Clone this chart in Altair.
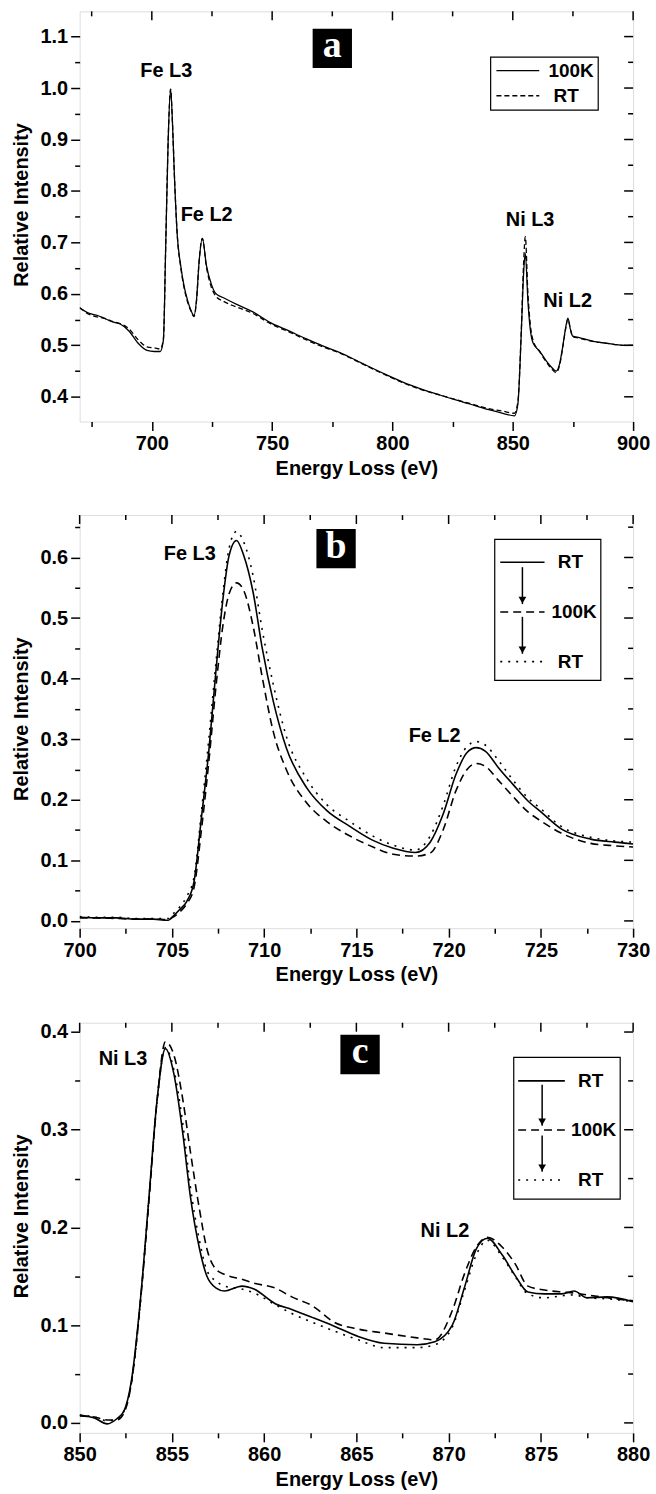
import altair as alt
import pandas as pd

FONT = "Liberation Sans"
SERIF = "Liberation Serif"
W = 556
HA, HB, HC = 412, 415, 412

# ---------------- panel a : Fe / Ni survey ----------------
a_energy = [670, 674, 677.5, 680, 684, 687, 690.5, 694.5, 698, 701, 703.5, 704.8, 705.8, 706.8,
            707.8, 708.6, 709.3, 710.6, 712, 713.4, 715, 716.1, 717.5, 718.6, 719.6, 721, 722.7,
            724.8, 726.5, 730, 735.5, 742, 749.3, 757, 764.5, 771, 778.2, 787, 796.9, 804.5, 812,
            820, 832.1, 840, 845.9, 850.7, 852.1, 853.5, 854.5, 855.2, 856.3, 857.3, 858.4, 861.1,
            863.9, 866, 868, 869.5, 870.8, 872, 872.9, 874, 874.9, 877.7, 880, 884, 887.3, 892,
            896, 900]
a_100K = [0.573, 0.562, 0.558, 0.553, 0.545, 0.541, 0.528, 0.503, 0.490, 0.488, 0.488, 0.510,
          0.700, 0.900, 0.998, 0.930, 0.840, 0.712, 0.655, 0.615, 0.585, 0.570, 0.558, 0.590,
          0.660, 0.708, 0.655, 0.618, 0.601, 0.592, 0.579, 0.565, 0.544, 0.528, 0.512, 0.499,
          0.486, 0.466, 0.444, 0.428, 0.415, 0.403, 0.386, 0.375, 0.368, 0.363, 0.385, 0.520,
          0.640, 0.679, 0.585, 0.530, 0.505, 0.489, 0.470, 0.458, 0.450, 0.465, 0.499, 0.535,
          0.553, 0.530, 0.518, 0.515, 0.512, 0.507, 0.505, 0.502, 0.500, 0.500]
a_RT = [0.573, 0.560, 0.555, 0.553, 0.546, 0.542, 0.532, 0.510, 0.497, 0.495, 0.493, 0.512,
        0.700, 0.900, 0.998, 0.930, 0.840, 0.712, 0.652, 0.612, 0.582, 0.568, 0.556, 0.588,
        0.660, 0.708, 0.652, 0.612, 0.596, 0.585, 0.574, 0.562, 0.542, 0.526, 0.510, 0.497,
        0.485, 0.465, 0.443, 0.427, 0.414, 0.403, 0.387, 0.377, 0.372, 0.368, 0.390, 0.525,
        0.660, 0.711, 0.600, 0.540, 0.510, 0.488, 0.468, 0.455, 0.447, 0.462, 0.497, 0.533,
        0.551, 0.530, 0.517, 0.514, 0.511, 0.507, 0.505, 0.502, 0.500, 0.500]

a_xticks = [675, 700, 725, 750, 775, 800, 825, 850, 875, 900]
a_xlabels = [700, 750, 800, 850, 900]
a_yticks = [0.4, 0.45, 0.5, 0.55, 0.6, 0.65, 0.7, 0.75, 0.8, 0.85, 0.9, 0.95, 1.0, 1.05, 1.1]
a_ylabels = [0.4, 0.5, 0.6, 0.7, 0.8, 0.9, 1.0, 1.1]

a_peak_text = ["Fe L3", "Fe L2", "Ni L3", "Ni L2"]
a_peak_E = [706.0, 722.8, 857.2, 872.8]
a_peak_I = [1.034, 0.753, 0.744, 0.587]
a_tag = ["a"]
a_tag_E = [775.0]
a_tag_I = [1.077]
a_leg_box_E = [840.8, 885.5]
a_leg_box_I = [0.957, 1.060]
a_leg_line_E = [843.2, 861.0]
a_leg_text = ["100K", "RT"]
a_leg_text_E = [874.2, 872.2]
a_leg_I = [1.034, 0.985]

# ---------------- panel b : Fe L2,3 ----------------
b_energy = [700, 701, 702, 703, 704, 704.8, 705.0, 705.4, 705.8, 706.2, 706.6, 707.0, 707.4,
            707.8, 708.1, 708.5, 708.9, 709.4, 709.9, 710.5, 711.2, 712.3, 713.4, 714.6, 715.9,
            717, 718.2, 719, 719.7, 720.4, 721, 721.5, 722, 722.7, 723.5, 724.3, 725, 726.1,
            727.7, 729, 730]
b_RT_before = [0.006, 0.005, 0.005, 0.003, 0.003, 0.001, 0.006, 0.018, 0.032, 0.065, 0.170,
               0.280, 0.417, 0.540, 0.603, 0.628, 0.603, 0.543, 0.450, 0.362, 0.286, 0.220,
               0.182, 0.157, 0.133, 0.120, 0.113, 0.130, 0.176, 0.242, 0.278, 0.286, 0.280,
               0.253, 0.225, 0.198, 0.180, 0.152, 0.135, 0.130, 0.127]
b_100K = [0.005, 0.005, 0.004, 0.003, 0.003, 0.002, 0.005, 0.014, 0.028, 0.055, 0.150, 0.262,
          0.390, 0.495, 0.540, 0.558, 0.545, 0.487, 0.402, 0.312, 0.250, 0.195, 0.164, 0.141,
          0.122, 0.110, 0.107, 0.112, 0.150, 0.215, 0.250, 0.260, 0.255, 0.232, 0.205, 0.180,
          0.165, 0.145, 0.128, 0.124, 0.122]
b_RT_after = [0.007, 0.006, 0.006, 0.004, 0.004, 0.004, 0.010, 0.022, 0.040, 0.072, 0.180,
              0.300, 0.430, 0.550, 0.615, 0.643, 0.625, 0.570, 0.480, 0.390, 0.305, 0.235,
              0.192, 0.165, 0.140, 0.125, 0.117, 0.140, 0.190, 0.255, 0.288, 0.296, 0.290,
              0.265, 0.232, 0.203, 0.185, 0.156, 0.138, 0.132, 0.130]

b_xticks = [700, 702.5, 705, 707.5, 710, 712.5, 715, 717.5, 720, 722.5, 725, 727.5, 730]
b_xlabels = [700, 705, 710, 715, 720, 725, 730]
b_yticks = [0.0, 0.05, 0.1, 0.15, 0.2, 0.25, 0.3, 0.35, 0.4, 0.45, 0.5, 0.55, 0.6, 0.65]
b_ylabels = [0.0, 0.1, 0.2, 0.3, 0.4, 0.5, 0.6]

b_peak_text = ["Fe L3", "Fe L2"]
b_peak_E = [705.97, 719.24]
b_peak_I = [0.606, 0.305]
b_tag = ["b"]
b_tag_E = [713.9]
b_tag_I = [0.6145]
b_leg_box_E = [722.5, 728.25]
b_leg_box_I = [0.397, 0.630]
b_leg_line_E = [722.8, 725.2]
b_leg_text = ["RT", "100K", "RT"]
b_leg_text_E = [726.6, 726.8, 726.6]
b_leg_I = [0.592, 0.510, 0.428]
b_arrow_E = [724.0, 724.0]
b_arrow_from = [0.584, 0.502]
b_arrow_to = [0.523, 0.441]

# ---------------- panel c : Ni L2,3 ----------------
c_energy = [850, 850.8, 851.5, 852.0, 852.4, 852.8, 853.3, 853.75, 854.2, 854.65, 855.1, 855.6,
            856.0, 856.5, 856.9, 857.4, 857.85, 858.8, 859.45, 860.6, 861.5, 862.6, 863.8,
            865.1, 866.5, 868.3, 869.25, 870.2, 870.85, 871.5, 872.1, 872.9, 873.6, 874.3,
            875.2, 876.1, 876.8, 877.5, 878.6, 880]
c_RT_before = [0.008, 0.005, -0.001, 0.004, 0.012, 0.0425, 0.127, 0.229, 0.331, 0.383, 0.358,
               0.295, 0.232, 0.178, 0.150, 0.138, 0.135, 0.140, 0.137, 0.122, 0.116, 0.108,
               0.099, 0.0885, 0.0815, 0.080, 0.083, 0.100, 0.138, 0.178, 0.189, 0.172, 0.151,
               0.134, 0.132, 0.132, 0.135, 0.128, 0.129, 0.124]
c_100K = [0.007, 0.006, 0.003, 0.003, 0.010, 0.040, 0.125, 0.225, 0.330, 0.390, 0.377, 0.330,
          0.278, 0.218, 0.178, 0.157, 0.152, 0.147, 0.143, 0.138, 0.129, 0.120, 0.103, 0.096,
          0.092, 0.087, 0.085, 0.115, 0.152, 0.180, 0.190, 0.180, 0.163, 0.140, 0.136, 0.134,
          0.133, 0.131, 0.128, 0.125]
c_RT_after = [0.008, 0.006, 0.002, 0.004, 0.012, 0.040, 0.125, 0.228, 0.330, 0.384, 0.362,
              0.305, 0.242, 0.186, 0.156, 0.145, 0.140, 0.137, 0.133, 0.121, 0.112, 0.103,
              0.094, 0.085, 0.077, 0.077, 0.080, 0.098, 0.135, 0.172, 0.187, 0.170, 0.150,
              0.132, 0.128, 0.130, 0.131, 0.128, 0.127, 0.124]

c_xticks = [850, 852.5, 855, 857.5, 860, 862.5, 865, 867.5, 870, 872.5, 875, 877.5, 880]
c_xlabels = [850, 855, 860, 865, 870, 875, 880]
c_yticks = [0.0, 0.05, 0.1, 0.15, 0.2, 0.25, 0.3, 0.35, 0.4]
c_ylabels = [0.0, 0.1, 0.2, 0.3, 0.4]

c_peak_text = ["Ni L3", "Ni L2"]
c_peak_E = [852.35, 869.8]
c_peak_I = [0.372, 0.196]
c_tag = ["c"]
c_tag_E = [865.2]
c_tag_I = [0.377]
c_leg_box_E = [873.53, 879.3]
c_leg_box_I = [0.229, 0.374]
c_leg_line_E = [873.77, 876.3]
c_leg_text = ["RT", "100K", "RT"]
c_leg_text_E = [877.7, 877.86, 877.7]
c_leg_I = [0.350, 0.2997, 0.2485]
c_arrow_E = [875.07, 875.07]
c_arrow_from = [0.346, 0.294]
c_arrow_to = [0.304, 0.257]

DASH_A = [5, 3]
DASH = [8, 5]
DOT = [2, 6]
MAJOR, MINOR = 9, 5


def cond(labels, big, small):
    return {"condition": {"test": f"indexof({labels}, datum.value) >= 0", "value": big},
            "value": small}


def main_axis(ticks, labels, fmt, title, pad, title_y=None):
    kw = {}
    if title_y is not None:
        kw["titleY"] = title_y
    return alt.Axis(values=ticks,
                    labelExpr=f"indexof({labels}, datum.value) >= 0 ? format(datum.value, '{fmt}') : ''",
                    tickSize=cond(labels, MAJOR, MINOR), tickColor="black", tickWidth=1.5,
                    domain=False, grid=False, labelFont=FONT, labelFontSize=20,
                    labelFontWeight="bold", labelColor="black", labelPadding=3,
                    labelOverlap=False, labelFlush=False, title=title, titleFont=FONT,
                    titleFontSize=20, titleFontWeight="bold", titleColor="black",
                    titlePadding=pad, **kw)


def panel(h, xdom, ydom, xt, xl, yt, yl, series, peaks, tag, legbox, leglines, legtexts,
          arrows, title_shift):
    xs = alt.Scale(domain=xdom, nice=False, zero=False)
    ys = alt.Scale(domain=ydom, nice=False, zero=False)

    def X(f):
        return alt.X(f, type="quantitative", scale=xs, axis=None)

    def Y(f):
        return alt.Y(f, type="quantitative", scale=ys, axis=None)

    layers = []
    for i, (energy, vals, dash, sw) in enumerate(series):
        df = pd.DataFrame({"E": energy, "I": vals})
        kw = dict(color="black", strokeWidth=sw, interpolate="monotone", clip=True)
        if dash is not None:
            kw["strokeDash"] = dash
        if i == 0:
            enc = dict(x=alt.X("E:Q", scale=xs,
                               axis=main_axis(xt, xl, "d", "Energy Loss (eV)", 5)),
                       y=alt.Y("I:Q", scale=ys,
                               axis=main_axis(yt, yl, ".1f", "Relative Intensity", 9,
                                              h / 2 - title_shift)))
        else:
            enc = dict(x=X("E"), y=Y("I"))
        layers.append(alt.Chart(df).mark_line(**kw).encode(**enc))

    # mirrored inward ticks on the top and right frame, from the tick arrays
    xmajor = [v for v in xt if v in xl]
    xminor = [v for v in xt if v not in xl]
    for group, ln in ((xmajor, MAJOR), (xminor, MINOR)):
        layers.append(alt.Chart(pd.DataFrame({"E": group})).mark_tick(
            orient="vertical", size=ln, thickness=1.5, color="black", opacity=1).encode(
            x=X("E"), y=alt.value(ln / 2)))
    ymajor = [v for v in yt if v in yl]
    yminor = [v for v in yt if v not in yl]
    for group, ln in ((ymajor, MAJOR), (yminor, MINOR)):
        layers.append(alt.Chart(pd.DataFrame({"I": group})).mark_tick(
            orient="horizontal", size=ln, thickness=1.5, color="black", opacity=1).encode(
            y=Y("I"), x=alt.value(W - ln / 2)))

    ptxt, pE, pI = peaks
    layers.append(alt.Chart(pd.DataFrame({"t": ptxt, "E": pE, "I": pI})).mark_text(
        font=FONT, fontSize=20, fontWeight="bold", color="black", baseline="middle"
    ).encode(x=X("E"), y=Y("I"), text="t:N"))

    ttxt, tE, tI = tag
    tdf = pd.DataFrame({"t": ttxt, "E": tE, "I": tI})
    layers.append(alt.Chart(tdf).mark_square(size=1560, color="black", opacity=1).encode(
        x=X("E"), y=Y("I")))
    layers.append(alt.Chart(tdf).mark_text(font=SERIF, fontSize=38, fontWeight="bold",
                                          color="white", baseline="middle", dy=-2).encode(
        x=X("E"), y=Y("I"), text="t:N"))

    bE, bI = legbox
    layers.append(alt.Chart(pd.DataFrame({"E": [bE[0]], "E2": [bE[1]], "I": [bI[0]],
                                          "I2": [bI[1]]})).mark_rect(
        fillOpacity=0, stroke="black", strokeWidth=1.2).encode(
        x=X("E"), x2="E2", y=Y("I"), y2="I2"))

    lE, lI, ldashes = leglines
    for yv, dash, sw in zip(lI, ldashes, [s[3] for s in series]):
        kw = dict(color="black", strokeWidth=sw)
        if dash is not None:
            kw["strokeDash"] = dash
        layers.append(alt.Chart(pd.DataFrame({"E": [lE[0]], "E2": [lE[1]], "I": [yv]}))
                      .mark_rule(**kw).encode(x=X("E"), x2="E2", y=Y("I")))

    txt, tE2, tI2 = legtexts
    layers.append(alt.Chart(pd.DataFrame({"t": txt, "E": tE2, "I": tI2})).mark_text(
        font=FONT, fontSize=19, fontWeight="bold", color="black", baseline="middle"
    ).encode(x=X("E"), y=Y("I"), text="t:N"))

    if arrows is not None:
        aE, a0, a1 = arrows
        adf = pd.DataFrame({"E": aE, "I": a0, "I2": a1})
        layers.append(alt.Chart(adf).mark_rule(color="black", strokeWidth=1.5).encode(
            x=X("E"), y=Y("I"), y2="I2"))
        layers.append(alt.Chart(adf).mark_point(shape="triangle-down", size=60, filled=True,
                                                color="black", opacity=1, yOffset=-4).encode(
            x=X("E"), y=Y("I2")))

    return alt.layer(*layers).resolve_axis(x="independent", y="independent").properties(
        width=W, height=h)


pa = panel(HA, [670, 900], [0.352, 1.149], a_xticks, a_xlabels, a_yticks, a_ylabels,
           [(a_energy, a_100K, None, 1.3), (a_energy, a_RT, DASH_A, 1.3)],
           (a_peak_text, a_peak_E, a_peak_I), (a_tag, a_tag_E, a_tag_I),
           (a_leg_box_E, a_leg_box_I), (a_leg_line_E, a_leg_I, [None, DASH_A]),
           (a_leg_text, a_leg_text_E, a_leg_I), None, 12)

pb = panel(HB, [700, 730], [-0.012, 0.67], b_xticks, b_xlabels, b_yticks, b_ylabels,
           [(b_energy, b_RT_before, None, 1.6), (b_energy, b_100K, DASH, 1.6),
            (b_energy, b_RT_after, DOT, 1.6)],
           (b_peak_text, b_peak_E, b_peak_I), (b_tag, b_tag_E, b_tag_I),
           (b_leg_box_E, b_leg_box_I), (b_leg_line_E, b_leg_I, [None, DASH, DOT]),
           (b_leg_text, b_leg_text_E, b_leg_I), (b_arrow_E, b_arrow_from, b_arrow_to), 3)

pc = panel(HC, [850, 880], [-0.0102, 0.4095], c_xticks, c_xlabels, c_yticks, c_ylabels,
           [(c_energy, c_RT_before, None, 1.6), (c_energy, c_100K, DASH, 1.6),
            (c_energy, c_RT_after, DOT, 1.6)],
           (c_peak_text, c_peak_E, c_peak_I), (c_tag, c_tag_E, c_tag_I),
           (c_leg_box_E, c_leg_box_I), (c_leg_line_E, c_leg_I, [None, DASH, DOT]),
           (c_leg_text, c_leg_text_E, c_leg_I), (c_arrow_E, c_arrow_from, c_arrow_to), 12)

chart = alt.vconcat(pa, pb, pc, spacing=35).properties(
    padding={"left": 10, "top": 7, "right": 5, "bottom": 3}
).configure_view(stroke="black", strokeWidth=1.8).configure(background="white")

chart.save("out.html", embed_options={"renderer": "svg", "actions": False})
